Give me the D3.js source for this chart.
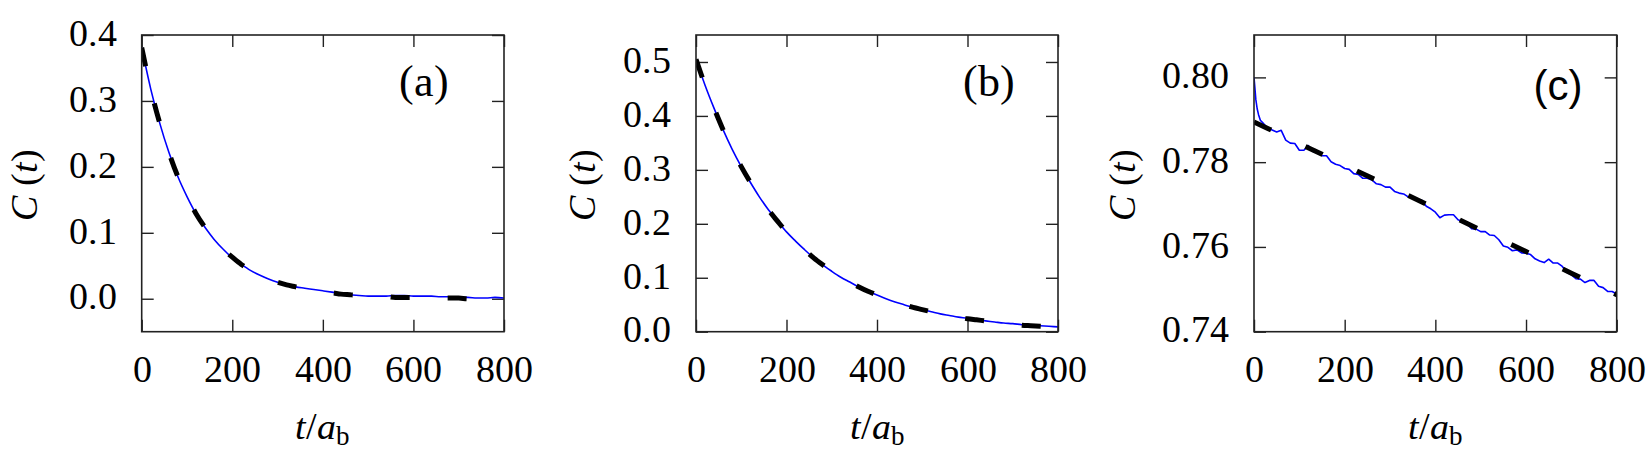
<!DOCTYPE html>
<html>
<head>
<meta charset="utf-8">
<script src="https://cdn.jsdelivr.net/npm/d3@7"></script>
<style>
  @font-face { font-family: 'PlotSerif'; font-style: normal;
    src: local('Liberation Serif'), local('LiberationSerif'), local('LiberationSerif-Regular'), local('DejaVu Serif'), local('DejaVuSerif'); }
  @font-face { font-family: 'PlotSerif'; font-style: italic;
    src: local('Liberation Serif Italic'), local('LiberationSerif-Italic'), local('DejaVu Serif Italic'), local('DejaVuSerif-Italic'); }
  body { margin: 0; background: #fff; }
  svg { display: block; }
  .serif { font-family: 'PlotSerif', 'Liberation Serif', 'DejaVu Serif', 'Times New Roman', Times, serif; }
  .sans { font-family: 'Liberation Sans', Arial, Helvetica, sans-serif; }
</style>
</head>
<body>
<svg id="chart" width="1650" height="465"></svg>
<script>
// time samples shared by panels (a) and (b)
const times = [0,20,40,60,80,100,120,140,160,180,200,220,240,260,280,300,320,340,360,380,
  400,420,440,460,480,500,520,540,560,580,600,620,640,660,680,700,720,740,760,780,800]

// panel (a)
const aCurve = [0.381,0.318,0.266,0.222,0.185,0.155,0.129,0.108,0.090,0.075,0.062,0.052,0.043,0.036,0.030,0.025,0.021,0.018,0.016,0.014,
  0.012,0.010,0.008,0.006,0.005,0.004,0.004,0.004,0.005,0.005,0.004,0.004,0.004,0.003,0.003,0.002,0.002,0.001,0.001,0.002,0.001]
const aFit = [0.381,0.318,0.266,0.222,0.185,0.155,0.129,0.108,0.090,0.075,0.063,0.052,0.044,0.036,0.030,0.025,0.021,0.018,0.015,0.012,
  0.010,0.009,0.007,0.006,0.005,0.004,0.003,0.003,0.002,0.002,0.002,0.001,0.001,0.001,0.001,0.001,0.000,0.000,0.000,0.000,0.000]

// panel (b)
const bCurve = [0.505,0.457,0.414,0.374,0.338,0.306,0.277,0.250,0.226,0.205,0.185,0.168,0.152,0.137,0.124,0.112,0.101,0.092,0.083,0.075,
  0.068,0.061,0.055,0.050,0.045,0.041,0.037,0.033,0.030,0.027,0.025,0.022,0.020,0.018,0.016,0.015,0.013,0.012,0.011,0.010,0.009]
const bFit = [0.505,0.457,0.414,0.374,0.338,0.306,0.277,0.250,0.226,0.205,0.185,0.168,0.152,0.137,0.124,0.112,0.101,0.092,0.083,0.075,
  0.068,0.061,0.055,0.050,0.045,0.041,0.037,0.033,0.030,0.027,0.024,0.022,0.020,0.018,0.016,0.014,0.012,0.011,0.010,0.009,0.008]

// panel (c)
const cTimes = [0,2,4,7,10,14,20,30,40,50,60,70,80,90,100,110,120,130,140,150,160,170,180,190,200,
  210,220,230,240,250,260,270,280,290,300,310,320,330,340,350,360,370,380,390,400,
  410,420,430,440,450,460,470,480,490,500,510,520,530,540,550,560,570,580,590,600,
  610,620,630,640,650,660,670,680,690,700,710,720,730,740,750,760,770,780,790,800]
const cCurve = [0.8000,0.7975,0.7948,0.7926,0.7912,0.7899,0.7892,0.7880,0.7876,0.7871,0.7875,0.7852,0.7845,0.7844,0.7828,0.7828,0.7839,0.7825,0.7822,0.7815,0.7815,0.7801,0.7795,0.7792,0.7785,
  0.7783,0.7773,0.7771,0.7762,0.7762,0.7758,0.7749,0.7747,0.7741,0.7741,0.7731,0.7727,0.7725,0.7718,0.7718,0.7712,0.7710,0.7696,0.7690,0.7682,
  0.7669,0.7675,0.7676,0.7676,0.7664,0.7660,0.7655,0.7643,0.7642,0.7636,0.7636,0.7628,0.7627,0.7617,0.7602,0.7599,0.7591,0.7593,0.7586,0.7585,
  0.7582,0.7572,0.7567,0.7563,0.7571,0.7562,0.7562,0.7554,0.7540,0.7534,0.7525,0.7524,0.7516,0.7521,0.7521,0.7507,0.7504,0.7495,0.7495,0.7489]
const fitTimes = [0,100,200,300,400,500,600,700,800]
const cFit = [0.7895,0.7844,0.7793,0.7742,0.7691,0.7640,0.7589,0.7538,0.7487]

// axes
const xTicks = [0,200,400,600,800]
const aTicks = [0.0,0.1,0.2,0.3,0.4]
const bTicks = [0.0,0.1,0.2,0.3,0.4,0.5]
const cTicks = [0.74,0.76,0.78,0.80]

const plotTop = 35
const plotBottom = 331.7
const tickLen = 12

const panels = [
  { id: 'a', left: 141.7, right: 504, yDomain: [-0.05, 0.4], yTicks: aTicks, fmt: '.1f',
    curveT: times, curve: aCurve, fitT: times, fit: aFit, smooth: true,
    ylabX: 36.7, tag: '(a)', tagX: 424, tagY: 96, tagClass: 'serif', tagSize: 44 },
  { id: 'b', left: 696, right: 1058, yDomain: [0, 0.55], yTicks: bTicks, fmt: '.1f',
    curveT: times, curve: bCurve, fitT: times, fit: bFit, smooth: true,
    ylabX: 595, tag: '(b)', tagX: 989, tagY: 96, tagClass: 'serif', tagSize: 44 },
  { id: 'c', left: 1254, right: 1616.7, yDomain: [0.74, 0.81], yTicks: cTicks, fmt: '.2f',
    curveT: cTimes, curve: cCurve, fitT: fitTimes, fit: cFit, smooth: false,
    ylabX: 1135, tag: '(c)', tagX: 1558, tagY: 100, tagClass: 'sans', tagSize: 42 }
]

const svg = d3.select('#chart')

panels.forEach(p => {
  const x = d3.scaleLinear().domain([0, 800]).range([p.left, p.right])
  const y = d3.scaleLinear().domain(p.yDomain).range([plotBottom, plotTop])
  const g = svg.append('g').attr('class', 'panel ' + p.id)

  g.append('clipPath').attr('id', 'clip-' + p.id)
    .append('rect')
    .attr('x', p.left).attr('y', plotTop)
    .attr('width', p.right - p.left).attr('height', plotBottom - plotTop)

  // ticks, all pointing inwards
  const styleAxis = sel => {
    sel.attr('font-family', null).attr('font-size', null)
    sel.select('.domain').remove()
    sel.selectAll('.tick line').attr('stroke', '#222').attr('stroke-width', 1.4)
    sel.selectAll('text').attr('class', 'serif').style('font-size', '38px').attr('fill', '#000')
  }

  g.append('g').attr('transform', `translate(${p.left},0)`)
    .call(d3.axisLeft(y).tickValues(p.yTicks).tickFormat(d3.format(p.fmt)).tickSizeInner(-tickLen).tickSizeOuter(0).tickPadding(25))
    .call(styleAxis)
    .selectAll('text').attr('dy', '0.27em')

  g.append('g').attr('transform', `translate(${p.right},0)`)
    .call(d3.axisRight(y).tickValues(p.yTicks).tickFormat('').tickSizeInner(-tickLen).tickSizeOuter(0))
    .call(styleAxis)

  g.append('g').attr('transform', `translate(0,${plotBottom})`)
    .call(d3.axisBottom(x).tickValues(xTicks).tickFormat(d3.format('d')).tickSizeInner(-tickLen).tickSizeOuter(0))
    .call(styleAxis)
    .selectAll('text').attr('y', 50).attr('dy', null)

  g.append('g').attr('transform', `translate(0,${plotTop})`)
    .call(d3.axisTop(x).tickValues(xTicks).tickFormat('').tickSizeInner(-tickLen).tickSizeOuter(0))
    .call(styleAxis)

  // data
  const lines = g.append('g').attr('clip-path', `url(#clip-${p.id})`)
  const blueLine = d3.line()
    .x((d, i) => x(p.curveT[i]))
    .y(d => y(d))
    .curve(p.smooth ? d3.curveMonotoneX : d3.curveLinear)
  lines.append('path')
    .attr('d', blueLine(p.curve))
    .attr('fill', 'none')
    .attr('stroke', '#0000ff')
    .attr('stroke-width', 1.6)
    .attr('stroke-linejoin', 'round')

  const fitLine = d3.line()
    .x((d, i) => x(p.fitT[i]))
    .y(d => y(d))
    .curve(d3.curveMonotoneX)
  lines.append('path')
    .attr('d', fitLine(p.fit))
    .attr('fill', 'none')
    .attr('stroke', '#000')
    .attr('stroke-width', 5)
    .attr('stroke-dasharray', '19,38')

  // frame
  g.append('rect')
    .attr('x', p.left).attr('y', plotTop)
    .attr('width', p.right - p.left).attr('height', plotBottom - plotTop)
    .attr('fill', 'none')
    .attr('stroke', '#222')
    .attr('stroke-width', 1.6)

  // axis titles
  const xlab = g.append('text')
    .attr('class', 'serif')
    .attr('x', (p.left + p.right) / 2).attr('y', 439)
    .attr('text-anchor', 'middle')
    .style('font-size', '38px')
  xlab.append('tspan').style('font-style', 'italic').text('t')
  xlab.append('tspan').text('/')
  xlab.append('tspan').style('font-style', 'italic').text('a')
  xlab.append('tspan').style('font-size', '27px').attr('dy', 6).text('b')

  const ylab = g.append('text')
    .attr('class', 'serif')
    .attr('transform', `translate(${p.ylabX},${(plotTop + plotBottom) / 2 + 2}) rotate(-90)`)
    .attr('text-anchor', 'middle')
    .style('font-size', '38px')
  ylab.append('tspan').style('font-style', 'italic').text('C')
  ylab.append('tspan').text(' (')
  ylab.append('tspan').style('font-style', 'italic').text('t')
  ylab.append('tspan').text(')')

  g.append('text')
    .attr('class', p.tagClass)
    .attr('x', p.tagX).attr('y', p.tagY)
    .attr('text-anchor', 'middle')
    .style('font-size', p.tagSize + 'px')
    .text(p.tag)
})
</script>
</body>
</html>
